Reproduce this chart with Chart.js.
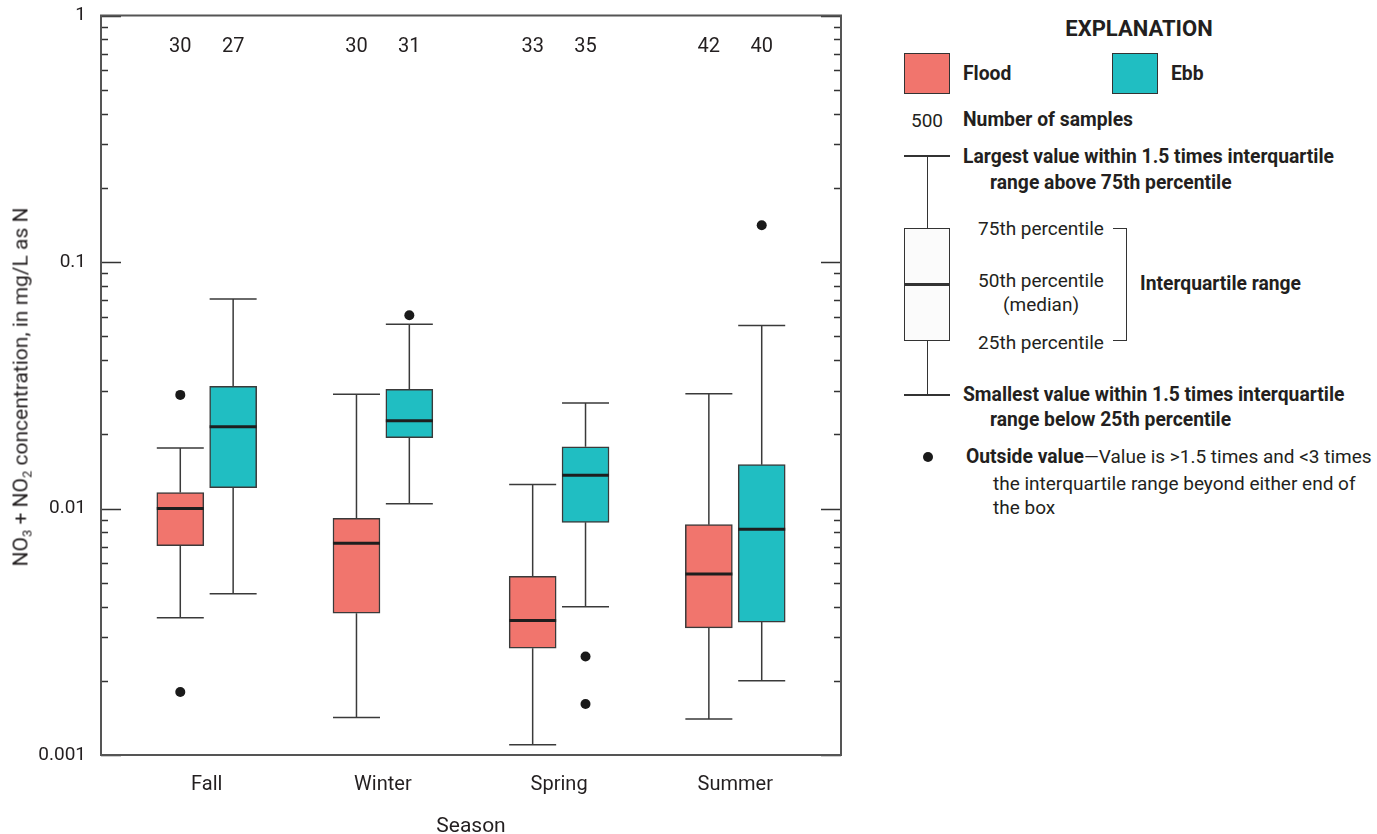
<!DOCTYPE html>
<html>
<head>
<meta charset="utf-8">
<script src="https://cdn.jsdelivr.net/npm/chart.js@4.4.1/dist/chart.umd.min.js"></script>
<style>
  html, body { margin: 0; padding: 0; background: #fff; }
  body { width: 1377px; height: 834px; position: relative; overflow: hidden;
         font-family: Roboto, 'Liberation Sans', sans-serif; color: #231f20; }
  #wrap { position: absolute; left: 0; top: 0; width: 870px; height: 834px; }
  .t { position: absolute; white-space: nowrap; line-height: 1; }
  .b { font-weight: bold; }
  .r { font-size: 19px; }
  .bb { font-size: 19.3px; font-weight: bold; }
  #ytitle { left: 22px; top: 387px; font-size: 21px; transform: translate(-50%, -50%) rotate(-90deg); }
  #ytitle sub { font-size: 13px; vertical-align: -4px; }
  #xtitle { left: 471px; top: 825px; font-size: 21px; transform: translate(-50%, -50%); }
  .sw { position: absolute; width: 46px; height: 41px; border: 1.5px solid #333; box-sizing: border-box; }
  .ln { position: absolute; background: #333; }
</style>
</head>
<body>
<div id="wrap"><canvas id="chart"></canvas></div>
<div id="ytitle" class="t">NO<sub>3</sub> + NO<sub>2</sub> concentration, in mg/L as N</div>
<div id="xtitle" class="t">Season</div>

<!-- Explanation panel -->
<div class="t b" style="left:1139px;top:29px;font-size:22px;transform:translate(-50%,-50%)">EXPLANATION</div>
<div class="sw" style="left:904px;top:53px;background:#f1756d"></div>
<div class="t bb" style="left:963px;top:74px;transform:translateY(-50%)">Flood</div>
<div class="sw" style="left:1112px;top:53px;background:#20bec2"></div>
<div class="t bb" style="left:1171px;top:74px;transform:translateY(-50%)">Ebb</div>
<div class="t r" style="left:927px;top:120px;transform:translate(-50%,-50%)">500</div>
<div class="t bb" style="left:963px;top:120px;transform:translateY(-50%)">Number of samples</div>

<div class="ln" style="left:904px;top:155px;width:46px;height:1.5px"></div>
<div class="ln" style="left:926.5px;top:155px;width:1.5px;height:73px"></div>
<div style="position:absolute;left:904px;top:228px;width:46px;height:113px;border:1.5px solid #333;box-sizing:border-box;background:#fbfbfb"></div>
<div class="ln" style="left:904px;top:283px;width:46px;height:2.5px"></div>
<div class="ln" style="left:926.5px;top:341px;width:1.5px;height:53px"></div>
<div class="ln" style="left:904px;top:394px;width:46px;height:1.5px"></div>

<div class="t bb" style="left:963px;top:157px;transform:translateY(-50%)">Largest value within 1.5 times interquartile</div>
<div class="t bb" style="left:990px;top:183px;transform:translateY(-50%)">range above 75th percentile</div>
<div class="t r" style="left:1041px;top:228px;transform:translate(-50%,-50%)">75th percentile</div>
<div class="t r" style="left:1041px;top:280px;transform:translate(-50%,-50%)">50th percentile</div>
<div class="t r" style="left:1041px;top:304px;transform:translate(-50%,-50%)">(median)</div>
<div class="t r" style="left:1041px;top:342px;transform:translate(-50%,-50%)">25th percentile</div>
<div class="ln" style="left:1113px;top:228px;width:14px;height:1.2px"></div>
<div class="ln" style="left:1126px;top:228px;width:1.2px;height:113px"></div>
<div class="ln" style="left:1113px;top:340px;width:14px;height:1.2px"></div>
<div class="t bb" style="left:1140px;top:284px;transform:translateY(-50%)">Interquartile range</div>
<div class="t bb" style="left:963px;top:395px;transform:translateY(-50%)">Smallest value within 1.5 times interquartile</div>
<div class="t bb" style="left:990px;top:420px;transform:translateY(-50%)">range below 25th percentile</div>
<div style="position:absolute;left:922.5px;top:451.5px;width:10px;height:10px;border-radius:50%;background:#1a1a1a"></div>
<div class="t r" style="left:966px;top:457px;transform:translateY(-50%)"><b style="font-size:19.3px">Outside value</b>—Value is &gt;1.5 times and &lt;3 times</div>
<div class="t r" style="left:993px;top:483px;transform:translateY(-50%)">the interquartile range beyond either end of</div>
<div class="t r" style="left:993px;top:507px;transform:translateY(-50%)">the box</div>

<script>
// Seasons and sample counts
const seasons = ['Fall', 'Winter', 'Spring', 'Summer'];
const floodCount = [30, 30, 33, 42];
const ebbCount = [27, 31, 35, 40];

// Flood-tide statistics, mg/L as N
const floodLow = [0.0036, 0.00142, 0.0011, 0.0014];
const floodQ1 = [0.00706, 0.00376, 0.00271, 0.00328];
const floodMedian = [0.0100, 0.00723, 0.00351, 0.00542];
const floodQ3 = [0.0116, 0.00912, 0.00531, 0.0086];
const floodHigh = [0.0176, 0.0291, 0.0125, 0.0292];
const floodOutside = [[0.0289, 0.0018], [], [], []];

// Ebb-tide statistics, mg/L as N
const ebbLow = [0.00451, 0.01046, 0.00399, 0.0020];
const ebbQ1 = [0.01215, 0.01937, 0.00879, 0.00346];
const ebbMedian = [0.02147, 0.02271, 0.01363, 0.00823];
const ebbQ3 = [0.0313, 0.03046, 0.01781, 0.01506];
const ebbHigh = [0.0708, 0.0559, 0.0268, 0.0552];
const ebbOutside = [[], [0.0608], [0.00251, 0.00161], [0.1409]];

// Y-axis labelled decades
const yTickLabels = [0.001, 0.01, 0.1, 1];

const FONT = "Roboto, 'Liberation Sans', sans-serif";
const INK = '#231f20';
const LINE = '#3a3a3a';
const FLOOD_COLOR = '#f1756d';
const EBB_COLOR = '#20bec2';
const SHIFT = 0.15;      // half the distance between paired boxes, in category units
const BOX_PX = 47;       // box and whisker-cap width

const groups = [
  { off: -SHIFT, low: floodLow, q1: floodQ1, med: floodMedian, q3: floodQ3, high: floodHigh, out: floodOutside, n: floodCount },
  { off: SHIFT, low: ebbLow, q1: ebbQ1, med: ebbMedian, q3: ebbQ3, high: ebbHigh, out: ebbOutside, n: ebbCount }
];

function boxData(g) {
  return seasons.map((s, i) => ({ x: i + g.off, y: [g.q1[i], g.q3[i]] }));
}
function outsidePoints() {
  const pts = [];
  groups.forEach(g => g.out.forEach((vals, i) => vals.forEach(v => pts.push({ x: i + g.off, y: v }))));
  return pts;
}

const boxPlotPlugin = {
  id: 'boxPlot',
  beforeDatasetsDraw(chart) {
    const { ctx, scales: { x, y } } = chart;
    ctx.save();
    ctx.strokeStyle = LINE;
    ctx.lineWidth = 1.5;
    groups.forEach(g => seasons.forEach((s, i) => {
      const cx = x.getPixelForValue(i + g.off);
      const yq1 = y.getPixelForValue(g.q1[i]), yq3 = y.getPixelForValue(g.q3[i]);
      const ylo = y.getPixelForValue(g.low[i]), yhi = y.getPixelForValue(g.high[i]);
      ctx.beginPath();
      ctx.moveTo(cx, yq3); ctx.lineTo(cx, yhi);
      ctx.moveTo(cx - BOX_PX / 2, yhi); ctx.lineTo(cx + BOX_PX / 2, yhi);
      ctx.moveTo(cx, yq1); ctx.lineTo(cx, ylo);
      ctx.moveTo(cx - BOX_PX / 2, ylo); ctx.lineTo(cx + BOX_PX / 2, ylo);
      ctx.stroke();
    }));
    ctx.restore();
  },
  afterDatasetsDraw(chart) {
    const { ctx, chartArea: a, scales: { x, y } } = chart;
    ctx.save();
    // medians
    ctx.strokeStyle = '#1e1e1e';
    ctx.lineWidth = 3;
    groups.forEach(g => seasons.forEach((s, i) => {
      const cx = x.getPixelForValue(i + g.off);
      const ym = y.getPixelForValue(g.med[i]);
      ctx.beginPath();
      ctx.moveTo(cx - BOX_PX / 2, ym); ctx.lineTo(cx + BOX_PX / 2, ym);
      ctx.stroke();
    }));
    // sample counts
    ctx.fillStyle = INK;
    ctx.font = '20px ' + FONT;
    ctx.textAlign = 'center';
    ctx.textBaseline = 'middle';
    groups.forEach(g => seasons.forEach((s, i) => {
      ctx.fillText(String(g.n[i]), x.getPixelForValue(i + g.off), a.top + 31);
    }));
    ctx.restore();
  },
  afterDraw(chart) {
    const { ctx, chartArea: a, scales: { y } } = chart;
    ctx.save();
    // inward ticks on both vertical sides
    ctx.strokeStyle = '#333';
    ctx.lineWidth = 1.3;
    const lo = Math.log10(y.min), hi = Math.log10(y.max);
    for (let e = Math.round(lo); e <= Math.round(hi); e++) {
      for (let m = 1; m <= 9; m++) {
        const v = m * Math.pow(10, e);
        if (v < y.min * 0.999 || v > y.max * 1.001) continue;
        const py = Math.round(y.getPixelForValue(v)) + 0.5;
        const len = m === 1 ? 20 : 7;
        ctx.beginPath();
        ctx.moveTo(a.left, py); ctx.lineTo(a.left + len, py);
        ctx.moveTo(a.right, py); ctx.lineTo(a.right - len, py);
        ctx.stroke();
      }
    }
    // frame
    ctx.strokeStyle = '#555';
    ctx.lineWidth = 2;
    ctx.strokeRect(a.left, a.top, a.right - a.left, a.bottom - a.top);
    ctx.restore();
  }
};

Chart.defaults.font.family = FONT;
Chart.defaults.color = INK;

new Chart(document.getElementById('chart'), {
  type: 'bar',
  data: {
    datasets: [
      { label: 'Flood', data: boxData(groups[0]), backgroundColor: FLOOD_COLOR, borderColor: LINE,
        borderWidth: 1.5, borderSkipped: false, barThickness: BOX_PX, grouped: false },
      { label: 'Ebb', data: boxData(groups[1]), backgroundColor: EBB_COLOR, borderColor: LINE,
        borderWidth: 1.5, borderSkipped: false, barThickness: BOX_PX, grouped: false },
      { type: 'scatter', label: 'Outside value', data: outsidePoints(), backgroundColor: '#1a1a1a',
        borderWidth: 0, pointRadius: 5, pointHoverRadius: 5 }
    ]
  },
  options: {
    responsive: true,
    maintainAspectRatio: false,
    animation: false,
    events: [],
    layout: { padding: { left: 0, top: 15.5, right: 29, bottom: 0 } },
    plugins: { legend: { display: false }, tooltip: { enabled: false } },
    scales: {
      x: {
        type: 'linear', min: -0.6, max: 3.6, offset: false,
        grid: { display: false, drawTicks: false },
        border: { display: false },
        afterBuildTicks(scale) { scale.ticks = seasons.map((s, i) => ({ value: i })); },
        afterFit(scale) { scale.height = 79; scale.paddingLeft = 0; scale.paddingRight = 0; },
        ticks: { autoSkip: false, maxRotation: 0, padding: 18, font: { size: 20 }, color: INK,
                 callback: v => seasons[v] }
      },
      y: {
        type: 'logarithmic', min: 0.001, max: 1,
        grid: { display: false, drawTicks: false },
        border: { display: false },
        afterBuildTicks(scale) { scale.ticks = yTickLabels.map(v => ({ value: v })); },
        afterFit(scale) { scale.width = 101; scale.paddingTop = 0; scale.paddingBottom = 0; },
        ticks: { autoSkip: false, padding: 15, font: { size: 19 }, color: INK,
                 callback: v => String(v) }
      }
    }
  },
  plugins: [boxPlotPlugin]
});
</script>
</body>
</html>
